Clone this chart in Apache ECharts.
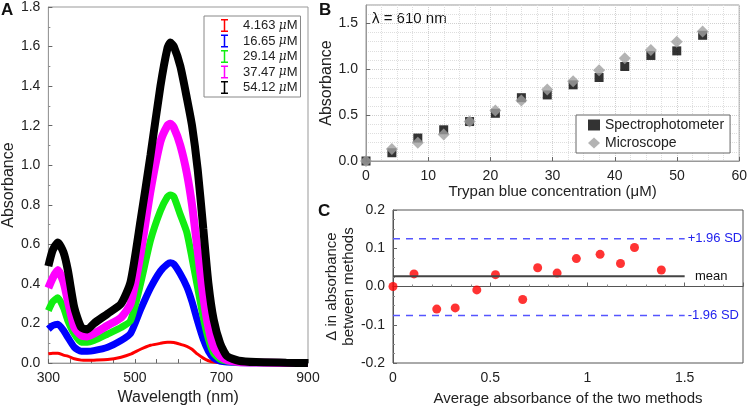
<!DOCTYPE html>
<html lang="en">
<head>
    <meta charset="UTF-8">
    <script src="https://cdn.jsdelivr.net/npm/echarts@6/dist/echarts.min.js"></script>
    <title>Trypan blue absorbance</title>
    <style>
        html, body { margin: 0; padding: 0; background: #fff; }
        #chart { width: 750px; height: 411px; }
    </style>
</head>
<body>
    <div id="chart"></div>
    <script>
        // panel A: spectra (nm, absorbance)
        var wavelength = [300, 310, 322, 335, 345, 360, 376, 390, 405, 437, 468, 490, 513, 536, 559, 575, 582, 590, 605, 620, 632, 645, 658, 670, 682, 697, 713, 740, 780, 850, 900];
        var specNames = ['4.163', '16.65', '29.14', '37.47', '54.12'];
        var specColors = ['#ff0000', '#0000ff', '#11ee11', '#ff00ff', '#000000'];
        var spec4 = [0.047, 0.05, 0.05, 0.04, 0.035, 0.022, 0.015, 0.014, 0.015, 0.018, 0.03, 0.045, 0.07, 0.09, 0.10, 0.105, 0.105, 0.104, 0.095, 0.085, 0.07, 0.045, 0.025, 0.012, 0.005, 0.002, 0.001, 0, 0, 0, 0];
        var spec16 = [0.172, 0.19, 0.197, 0.165, 0.13, 0.08, 0.06, 0.06, 0.063, 0.08, 0.114, 0.15, 0.27, 0.38, 0.465, 0.50, 0.507, 0.50, 0.45, 0.385, 0.31, 0.21, 0.12, 0.06, 0.025, 0.01, 0.005, 0.002, 0.001, 0, 0];
        var spec29 = [0.265, 0.31, 0.33, 0.28, 0.215, 0.147, 0.105, 0.105, 0.114, 0.147, 0.18, 0.215, 0.40, 0.62, 0.77, 0.84, 0.85, 0.84, 0.75, 0.66, 0.53, 0.38, 0.23, 0.12, 0.05, 0.02, 0.01, 0.004, 0.002, 0.001, 0];
        var spec37 = [0.38, 0.43, 0.47, 0.41, 0.315, 0.18, 0.14, 0.135, 0.148, 0.19, 0.23, 0.30, 0.55, 0.87, 1.12, 1.20, 1.21, 1.19, 1.10, 0.96, 0.80, 0.57, 0.34, 0.18, 0.08, 0.035, 0.015, 0.006, 0.003, 0.001, 0];
        var spec54 = [0.49, 0.57, 0.61, 0.56, 0.47, 0.28, 0.18, 0.17, 0.20, 0.25, 0.30, 0.41, 0.72, 1.05, 1.40, 1.59, 1.62, 1.60, 1.50, 1.34, 1.20, 0.98, 0.68, 0.40, 0.22, 0.10, 0.035, 0.012, 0.005, 0.002, 0];
        var specWidths = [3, 7, 7, 8, 8];

        // panel B: absorbance at 610 nm vs concentration
        var conc = [0, 4.163, 8.33, 12.49, 16.65, 20.8, 24.98, 29.14, 33.3, 37.47, 41.6, 45.8, 49.96, 54.12];
        var spectro = [0, 0.09, 0.25, 0.34, 0.43, 0.52, 0.69, 0.72, 0.83, 0.91, 1.03, 1.15, 1.20, 1.37];
        var micro = [0, 0.13, 0.20, 0.29, 0.43, 0.55, 0.66, 0.78, 0.87, 0.99, 1.12, 1.21, 1.30, 1.41];

        // panel C: Bland-Altman
        var avgAbs = [0, 0.108, 0.225, 0.32, 0.431, 0.527, 0.667, 0.744, 0.844, 0.943, 1.065, 1.17, 1.242, 1.38];
        var diffAbs = [0, 0.033, -0.059, -0.056, -0.009, 0.031, -0.034, 0.049, 0.035, 0.073, 0.084, 0.060, 0.102, 0.043];
        var meanDiff = 0.027;
        var upperSD = 0.125;
        var lowerSD = -0.076;
        var lineEnd = 1.5;

        var font = 'Liberation Sans, Arial, sans-serif';
        var txt = '#222';

        function pairs(xs, ys) {
            return xs.map(function (x, i) { return [x, ys[i]]; });
        }

        var specData = [spec4, spec16, spec29, spec37, spec54];
        var series = [];
        specData.forEach(function (d, i) {
            series.push({
                name: specNames[i] + ' μM',
                type: 'line',
                xAxisIndex: 0,
                yAxisIndex: 0,
                data: pairs(wavelength, d),
                smooth: 0.2,
                showSymbol: false,
                lineStyle: { color: specColors[i], width: specWidths[i] },
                itemStyle: { color: specColors[i] }
            });
        });

        series.push({
            name: 'Spectrophotometer',
            type: 'scatter',
            xAxisIndex: 1,
            yAxisIndex: 1,
            data: pairs(conc, spectro),
            symbol: 'rect',
            symbolSize: 9,
            itemStyle: { color: '#000' }
        });
        series.push({
            name: 'Microscope',
            type: 'scatter',
            xAxisIndex: 1,
            yAxisIndex: 1,
            data: pairs(conc, micro),
            symbol: 'diamond',
            symbolSize: 12,
            itemStyle: { color: '#a0a0a0' }
        });

        function refLine(y, color, dashed, label) {
            return {
                type: 'line',
                xAxisIndex: 2,
                yAxisIndex: 2,
                data: [[0, y], [lineEnd, y]],
                showSymbol: false,
                silent: true,
                lineStyle: { color: color, width: dashed ? 1.5 : 2, type: dashed ? [7, 6] : 'solid' },
                endLabel: {
                    show: true,
                    formatter: label,
                    color: dashed ? '#2222ee' : '#111',
                    fontFamily: font,
                    fontSize: 13,
                    distance: 3
                }
            };
        }
        series.push(refLine(upperSD, '#5555ff', true, '+1.96 SD'));
        series.push(refLine(lowerSD, '#5555ff', true, '-1.96 SD'));
        series.push(refLine(meanDiff, '#444', false, '  mean'));
        series.push({
            type: 'scatter',
            xAxisIndex: 2,
            yAxisIndex: 2,
            data: pairs(avgAbs, diffAbs),
            symbolSize: 9,
            itemStyle: { color: '#ff0000' }
        });

        var frame = '#999';
        function valueAxis(extra) {
            var base = {
                type: 'value',
                axisLine: { show: true, lineStyle: { color: frame } },
                axisTick: { show: true, inside: true, length: 4, lineStyle: { color: '#666' } },
                axisLabel: { color: txt, fontFamily: font, fontSize: 14 },
                splitLine: { show: false },
                nameTextStyle: { color: txt, fontFamily: font, fontSize: 16 },
                nameLocation: 'middle'
            };
            return Object.assign(base, extra);
        }

        var option = {
            animation: false,
            textStyle: { fontFamily: font },
            grid: [
                { left: 47, right: 442, top: 7, bottom: 45, show: true, borderColor: frame },
                { left: 366, right: 10, top: 5, bottom: 250, show: true, borderColor: frame },
                { left: 393, right: 7, top: 210, bottom: 48, show: true, borderColor: '#555' }
            ],
            xAxis: [
                valueAxis({
                    gridIndex: 0, min: 300, max: 900, interval: 50,
                    name: 'Wavelength (nm)', nameGap: 24,
                    axisLabel: {
                        color: txt, fontFamily: font, fontSize: 14, margin: 8,
                        formatter: function (v) { return (v - 300) % 200 === 0 ? String(v) : ''; }
                    }
                }),
                valueAxis({
                    gridIndex: 1, min: 0, max: 60, interval: 10,
                    name: 'Trypan blue concentration (μM)', nameGap: 20,
                    nameTextStyle: { color: txt, fontFamily: font, fontSize: 15 },
                    splitLine: { show: true, lineStyle: { color: '#d0d0d0', type: 'dotted' } },
                    minorTick: { show: false, splitNumber: 4 },
                    minorSplitLine: { show: true, lineStyle: { color: '#dedede', type: 'dotted' } }
                }),
                valueAxis({
                    gridIndex: 2, min: 0, max: 1.8, interval: 0.5,
                    name: 'Average absorbance of the two methods', nameGap: 28,
                    nameTextStyle: { color: txt, fontFamily: font, fontSize: 15 },
                    axisLine: { show: true, lineStyle: { color: '#555' } },
                    axisLabel: { color: txt, fontFamily: font, fontSize: 14, showMaxLabel: false },
                    minorTick: { show: true, splitNumber: 5, length: 2, lineStyle: { color: '#888' } }
                })
            ],
            yAxis: [
                valueAxis({
                    gridIndex: 0, min: 0, max: 1.8, interval: 0.2,
                    name: 'Absorbance', nameGap: 27,
                    axisLabel: {
                        color: txt, fontFamily: font, fontSize: 14, margin: 8,
                        formatter: function (v) { return v.toFixed(1); }
                    },
                    minorTick: { show: true, splitNumber: 2, length: 2, lineStyle: { color: '#888' } }
                }),
                valueAxis({
                    gridIndex: 1, min: 0, max: 1.7, interval: 0.5,
                    name: 'Absorbance', nameGap: 24,
                    axisLabel: {
                        color: txt, fontFamily: font, fontSize: 14, showMaxLabel: false,
                        formatter: function (v) { return v.toFixed(1); }
                    },
                    splitLine: { show: true, lineStyle: { color: '#d0d0d0', type: 'dotted' } },
                    minorSplitLine: { show: true, lineStyle: { color: '#dedede', type: 'dotted' } },
                    minorTick: { show: false, splitNumber: 5 }
                }),
                valueAxis({
                    gridIndex: 2, min: -0.2, max: 0.2, interval: 0.1,
                    name: 'Δ in absorbance\nbetween methods', nameGap: 33,
                    nameTextStyle: { color: txt, fontFamily: font, fontSize: 15, lineHeight: 17 },
                    axisLine: { show: true, lineStyle: { color: '#555' } },
                    axisLabel: {
                        color: txt, fontFamily: font, fontSize: 14,
                        formatter: function (v) { return v.toFixed(1); }
                    },
                    minorTick: { show: true, splitNumber: 4, length: 2, lineStyle: { color: '#888' } }
                })
            ],
            legend: [
                {
                    data: specNames.map(function (n) { return n + ' μM'; }),
                    orient: 'vertical',
                    left: 204, top: 16,
                    itemGap: 2.5,
                    itemWidth: 7, itemHeight: 13,
                    icon: 'path://M0,0h7v1.5h-2.75v10h2.75v1.5h-7v-1.5h2.75v-10h-2.75z',
                    padding: [3, 3, 3, 17],
                    borderColor: '#888', borderWidth: 1,
                    backgroundColor: '#fff',
                    formatter: function (name) {
                        var p = name.split(' ');
                        return '{f|' + p[0] + '} {u|μ}{n|M}';
                    },
                    textStyle: {
                        rich: {
                            f: { fontFamily: font, fontSize: 13, color: txt, padding: [0, 0, 0, 10] },
                            n: { fontFamily: font, fontSize: 13, color: txt },
                            u: { fontFamily: 'DejaVu Serif', fontStyle: 'italic', fontSize: 12, color: txt }
                        }
                    }
                },
                {
                    data: [
                        { name: 'Spectrophotometer', icon: 'rect' },
                        { name: 'Microscope', icon: 'diamond' }
                    ],
                    orient: 'vertical',
                    left: 576, top: 115,
                    itemGap: 4,
                    itemWidth: 12, itemHeight: 11,
                    padding: [3, 6, 3, 12],
                    borderColor: '#666', borderWidth: 1,
                    backgroundColor: '#fff',
                    textStyle: { fontFamily: font, fontSize: 14, color: txt }
                }
            ],
            graphic: [
                { type: 'text', left: 1, top: 2, style: { text: 'A', font: 'bold 17px ' + font, fill: '#111' } },
                { type: 'text', left: 319, top: 2, style: { text: 'B', font: 'bold 17px ' + font, fill: '#111' } },
                { type: 'text', left: 318, top: 203, style: { text: 'C', font: 'bold 17px ' + font, fill: '#111' } },
                { type: 'text', left: 372, top: 11, style: { text: 'λ = 610 nm', font: '15px ' + font, fill: '#111' } }
            ],
            series: series
        };

        var myChart = echarts.init(document.getElementById('chart'));
        myChart.setOption(option);
    </script>
</body>
</html>
